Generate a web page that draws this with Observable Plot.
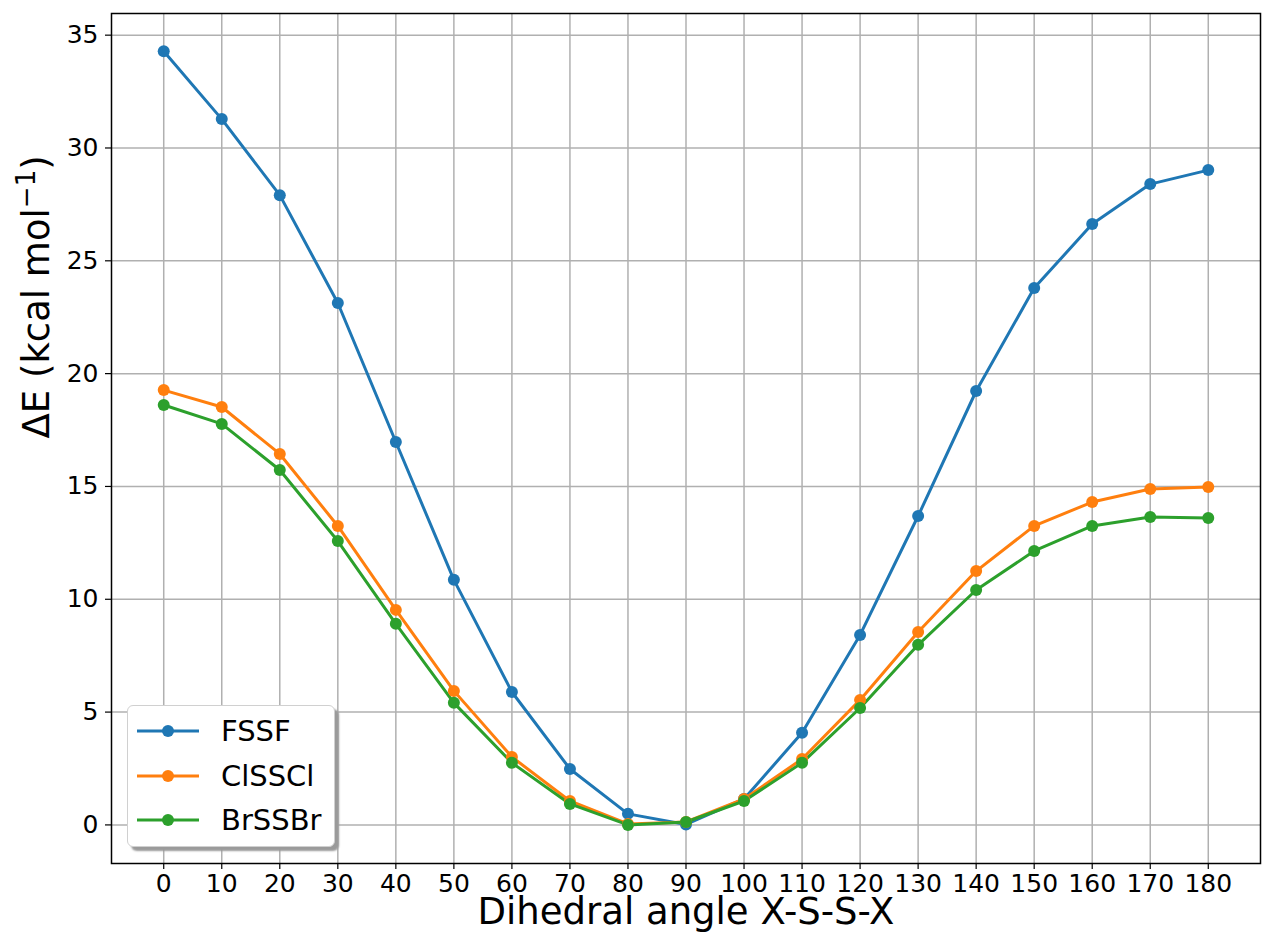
<!DOCTYPE html>
<html>
<head>
<meta charset="utf-8">
<script src="https://cdn.jsdelivr.net/npm/d3@7"></script>
<script src="https://cdn.jsdelivr.net/npm/@observablehq/plot@0.6"></script>
<style>
  html, body { margin: 0; padding: 0; background: #fff; }
  #wrap { position: relative; width: 1262px; height: 943px; font-family: "DejaVu Sans", sans-serif; }
  #legend {
    position: absolute; left: 127px; top: 705px; width: 208px; height: 142px;
    background: #fff; border: 1px solid #d0d0d0; border-radius: 6px;
    box-shadow: 4px 4px 2px #9a9a9a; box-sizing: border-box;
  }
  .item { position: absolute; left: 0; height: 40px; display: flex; align-items: center; }
  .item svg { margin-left: 9px; }
  .item span { margin-left: 22px; font-size: 29px; color: #000; }
</style>
</head>
<body>
<div id="wrap"></div>
<script>
// Dihedral angle scan (degrees) and relative energies (kcal/mol)
const angles = [0, 10, 20, 30, 40, 50, 60, 70, 80, 90, 100, 110, 120, 130, 140, 150, 160, 170, 180];
const fssf   = [34.29, 31.28, 27.91, 23.13, 16.97, 10.86, 5.89, 2.48, 0.49, 0.02, 1.15, 4.08, 8.42, 13.69, 19.23, 23.79, 26.63, 28.40, 29.02];
const clsscl = [19.27, 18.52, 16.44, 13.25, 9.53, 5.94, 3.01, 1.06, 0.04, 0.13, 1.15, 2.92, 5.54, 8.55, 11.25, 13.25, 14.31, 14.89, 14.98];
const brssbr = [18.61, 17.77, 15.73, 12.58, 8.91, 5.41, 2.75, 0.93, 0.00, 0.13, 1.06, 2.75, 5.18, 7.98, 10.41, 12.14, 13.25, 13.65, 13.60];

const seriesNames = ["FSSF", "ClSSCl", "BrSSBr"];
const seriesColors = ["#1f77b4", "#ff7f0e", "#2ca02c"];
const xTicks = [0, 10, 20, 30, 40, 50, 60, 70, 80, 90, 100, 110, 120, 130, 140, 150, 160, 170, 180];
const yTicks = [0, 5, 10, 15, 20, 25, 30, 35];
const xLabel = "Dihedral angle X-S-S-X";
const yLabel = "ΔE (kcal mol−1)";

const seriesValues = [fssf, clsscl, brssbr];
const rows = seriesNames.flatMap((name, i) =>
  angles.map((a, j) => ({series: name, angle: a, energy: seriesValues[i][j]}))
);

const chart = Plot.plot({
  width: 1262,
  height: 943,
  marginLeft: 111,
  marginRight: 2,
  marginTop: 13,
  marginBottom: 80,
  style: {fontFamily: "DejaVu Sans, sans-serif", fontSize: "25px", color: "#000", background: "#fff"},
  x: {domain: [-9, 189], label: null},
  y: {domain: [-1.71, 35.96], label: null},
  color: {domain: seriesNames, range: seriesColors},
  marks: [
    Plot.gridX(xTicks, {stroke: "#b0b0b0", strokeOpacity: 1, strokeWidth: 1.5}),
    Plot.gridY(yTicks, {stroke: "#b0b0b0", strokeOpacity: 1, strokeWidth: 1.5}),
    Plot.axisX({ticks: xTicks, tickSize: 6, tickPadding: 5, label: null, strokeWidth: 1.2, fontSize: 25}),
    Plot.axisY({ticks: yTicks, tickSize: 6, tickPadding: 7, label: null, strokeWidth: 1.2, fontSize: 25}),
    Plot.line(rows, {x: "angle", y: "energy", z: "series", stroke: "series", strokeWidth: 3}),
    Plot.dot(rows, {x: "angle", y: "energy", fill: "series", r: 6}),
    Plot.frame({stroke: "#000", strokeWidth: 1.5}),
    Plot.text([xLabel], {frameAnchor: "bottom", dy: 60, fontSize: 37, fill: "#000"}),
    Plot.text([yLabel], {frameAnchor: "left", dx: -74, rotate: -90, fontSize: 37, fill: "#000"})
  ]
});

// Set the unit exponent of the y label as a superscript
d3.select(chart).selectAll("text").each(function() {
  if (this.textContent !== yLabel) return;
  const t = d3.select(this);
  t.text(null);
  t.append("tspan").text("ΔE (kcal mol");
  t.append("tspan").style("font-size", "26px").attr("dy", "-0.55em").text("−1");
  t.append("tspan").attr("dy", "0.38em").text(")");
});

const wrap = document.getElementById("wrap");
wrap.appendChild(chart);

// Legend box drawn inside the axes, lower left
const legend = document.createElement("div");
legend.id = "legend";
seriesNames.forEach((name, i) => {
  const item = document.createElement("div");
  item.className = "item";
  item.style.top = (5 + i * 44.5) + "px";
  item.innerHTML =
    `<svg width="62" height="14"><line x1="0" y1="7" x2="62" y2="7" stroke="${seriesColors[i]}" stroke-width="3"/>` +
    `<circle cx="31" cy="7" r="6" fill="${seriesColors[i]}"/></svg><span>${name}</span>`;
  legend.appendChild(item);
});
wrap.appendChild(legend);
</script>
</body>
</html>
